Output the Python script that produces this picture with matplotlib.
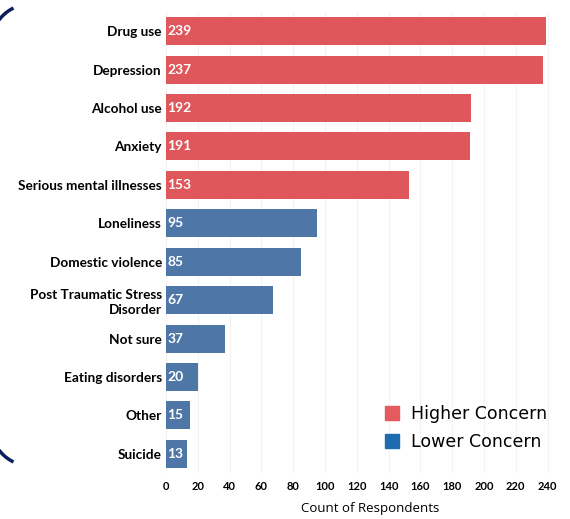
import numpy as np
import matplotlib.pyplot as plt
from matplotlib.lines import Line2D

# data, top to bottom
issues = ["Drug use", "Depression", "Alcohol use", "Anxiety", "Serious mental illnesses",
          "Loneliness", "Domestic violence", "Post Traumatic Stress\nDisorder", "Not sure",
          "Eating disorders", "Other", "Suicide"]
counts = [239, 237, 192, 191, 153, 95, 85, 67, 37, 20, 15, 13]
concern = ["Higher"] * 5 + ["Lower"] * 7

red = "#E0575B"
blue = "#4E77A8"
colors = [red if c == "Higher" else blue for c in concern]

W, H = 570, 519
fig = plt.figure(figsize=(W / 100, H / 100), dpi=100)
ax = fig.add_axes([166 / W, 1 - 473 / H, 384 / W, 461 / H])

ypos = list(range(len(issues)))
ax.barh(ypos, counts, height=0.73, color=colors, zorder=2)
for y, v in zip(ypos, counts):
    ax.text(1.0, y, str(v), color="white", fontweight="bold", fontsize=10,
            family="Lato", va="center", ha="left", zorder=3)

ax.set_ylim(len(issues) - 0.5, -0.5)
ax.set_xlim(0, 241.5)
ax.set_yticks(ypos)
ax.set_yticklabels(issues, fontweight="bold", fontsize=9.8, family="Lato",
                   linespacing=1.25)
ax.set_xticks(range(0, 241, 20))
ax.set_xticklabels([str(t) for t in range(0, 241, 20)], fontweight="bold",
                   fontsize=8, family="Lato")
ax.tick_params(length=0, pad=3)
ax.tick_params(axis="x", pad=6)
ax.grid(axis="x", color="#f2f2f2", linewidth=0.8, zorder=0)
for s in ax.spines.values():
    s.set_visible(False)
ax.set_xlabel("Count of Respondents", fontsize=9.5, family="Open Sans")
ax.xaxis.set_label_coords((370 - 166) / 384, (473 - 502) / 461)

handles = [Line2D([], [], marker="s", linestyle="", markersize=10, color="#E45A5E"),
           Line2D([], [], marker="s", linestyle="", markersize=10, color="#1F6BB0")]
fig.legend(handles, ["Higher Concern", "Lower Concern"], loc="center left",
           bbox_to_anchor=(366 / W, 1 - 428 / H), frameon=False, fontsize=12.5,
           handletextpad=0.5, labelspacing=0.55, handlelength=1.2)

# decorative bracket ends on the left edge
r = 40
for (cx, cy), (t1, t2) in [((31, 44), (116, 145)), ((31, 426), (215, 244))]:
    th = np.deg2rad(np.linspace(t1, t2, 30))
    px = cx + r * np.cos(th)
    py = cy - r * np.sin(th)
    fig.add_artist(Line2D(px / W, 1 - py / H, transform=fig.transFigure,
                          color="#0B1F5C", linewidth=2.5, solid_capstyle="butt"))

fig.savefig("out.png", dpi=100)
